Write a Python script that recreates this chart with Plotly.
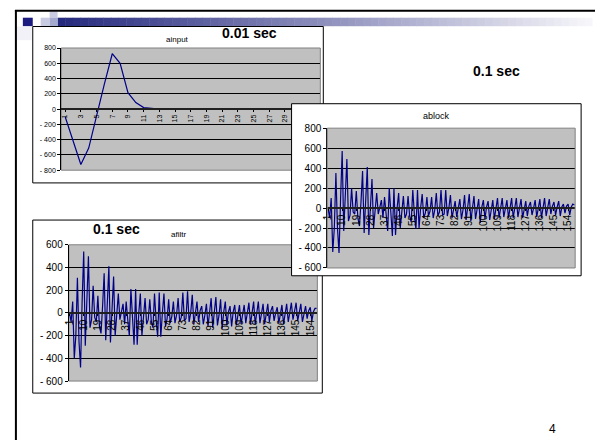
import plotly.graph_objects as go

W, H = 595, 445
FONT = "Liberation Sans, Arial, sans-serif"

# ---------------- data ----------------
ainput_x = list(range(1, 34))
ainput = [-100, -420, -725, -510, -80, 330, 725, 600, 215, 85, 20, 5,
          0, 0, 0, 0, 0, 0, 0, 0, 0, 0, 0, 0, 0, 0, 0, 0, 0, 0, 0, 0, 0]

ablock = [0, -100, 100, -440, -200, 350, -200, -450, 100, 570,
          -230, 120, 490, -130, -70, 200, -40, -60, 170, -100,
          -180, 60, 370, -250, 20, 410, -270, 60, 290, -200,
          -30, 150, -60, 20, 80, -100, 110, -60, -230, 200,
          -60, -280, 200, -270, 0, 150, -200, -20, 120, -100,
          -60, 120, -80, -140, 180, -60, -210, 180, -200, 0,
          140, -100, -50, 110, -80, -30, 110, -100, -20, 150,
          -80, -40, 180, -70, -60, 180, -80, 0, 130, -100,
          -10, 70, -90, 20, 90, -110, -20, 130, -120, 10,
          140, -130, 0, 120, -110, -20, 90, -150, 10, 80,
          -110, 10, 70, -120, 10, 80, -110, 0, 100, -100,
          10, 100, -90, 0, 80, -100, 10, 100, -100, 0,
          100, -90, 10, 90, -100, 0, 70, -80, 20, 60,
          -70, 0, 80, -90, 10, 90, -100, 10, 100, -80,
          10, 90, -60, 20, 60, -70, 10, 70, -80, 10,
          40, -50, 20, 40, -70, 10, 40, 30]

afiltr = [0, -80, 100, -400, -200, 310, -250, -480, 100, 540,
          -290, 100, 500, -130, -60, 240, -40, -80, 150, -120,
          -180, 60, 350, -240, 30, 410, -260, 60, 320, -200,
          -20, 170, -60, 30, 80, -100, 100, -60, -200, 210,
          -60, -280, 210, -280, 0, 170, -200, -20, 130, -100,
          -60, 120, -80, -130, 170, -60, -210, 180, -210, 0,
          170, -120, -50, 120, -90, -30, 100, -90, -20, 130,
          -80, -40, 180, -70, -50, 190, -80, 0, 160, -100,
          -10, 100, -80, 20, 60, -100, -20, 80, -120, 10,
          130, -130, 0, 140, -110, -20, 120, -140, 10, 100,
          -110, 10, 60, -120, 10, 70, -110, 0, 70, -100,
          10, 70, -90, 0, 90, -100, 10, 100, -100, 0,
          100, -90, 10, 80, -100, 0, 80, -80, 20, 60,
          -70, 0, 50, -90, 10, 70, -100, 10, 80, -80,
          10, 90, -60, 20, 90, -70, 10, 80, -80, 10,
          60, -50, 20, 50, -70, 10, 40, 40]

long_x = list(range(1, len(ablock) + 1))
ainput_ticks = list(range(1, 32, 2))
long_ticks = list(range(1, 155, 9))


def neg_label(v):
    return "0" if v == 0 else (f"- {abs(v)}" if v < 0 else str(v))


# ---------------- geometry helpers ----------------
def fx(x):
    return x / W


def fy(y):
    return 1 - y / H


# plot areas (px) and boxes (px)
P1 = dict(x0=56.7, x1=318, y0=44, y1=169)
B1 = dict(x0=28, x1=321, y0=22, y1=182)
P3 = dict(x0=64.3, x1=315, y0=245.3, y1=384.7)
B3 = dict(x0=28, x1=320, y0=220, y1=397)
P2 = dict(x0=325, x1=575, y0=126, y1=269)
B2 = dict(x0=289, x1=581, y0=101, y1=277)

LINE = "#000088"
LW = 1.2
GRAY = "#C0C0C0"

fig = go.Figure()
# chart 1 (xy), chart 3 (x2y2), cover (x3y3), chart 2 (x4y4) - order matters
fig.add_trace(go.Scatter(x=ainput_x, y=ainput, mode="lines",
                         line=dict(color=LINE, width=LW), xaxis="x", yaxis="y"))
fig.add_trace(go.Scatter(x=long_x, y=afiltr, mode="lines",
                         line=dict(color=LINE, width=LW), xaxis="x2", yaxis="y2"))
# cover: white box of chart 2 and its grey plot area (relative coordinates)
gx0 = (P2["x0"] - B2["x0"]) / (B2["x1"] - B2["x0"])
gx1 = (P2["x1"] - B2["x0"]) / (B2["x1"] - B2["x0"])
gy0 = (B2["y1"] - P2["y1"]) / (B2["y1"] - B2["y0"])
gy1 = (B2["y1"] - P2["y0"]) / (B2["y1"] - B2["y0"])
fig.add_trace(go.Scatter(x=[0, 1, 1, 0, 0], y=[0, 0, 1, 1, 0], mode="lines",
                         fill="toself", fillcolor="white", line=dict(width=0),
                         xaxis="x3", yaxis="y3", hoverinfo="skip"))
fig.add_trace(go.Scatter(x=[gx0, gx1, gx1, gx0, gx0], y=[gy0, gy0, gy1, gy1, gy0],
                         mode="lines", fill="toself", fillcolor=GRAY,
                         line=dict(width=0), xaxis="x3", yaxis="y3", hoverinfo="skip"))
fig.add_trace(go.Scatter(x=long_x, y=ablock, mode="lines",
                         line=dict(color=LINE, width=LW), xaxis="x4", yaxis="y4"))


def ydom(P):
    return [fy(P["y1"]), fy(P["y0"])]


def xdom(P):
    return [fx(P["x0"]), fx(P["x1"])]


def zero_pos(P, lo, hi):
    d = ydom(P)
    return d[0] + (0 - lo) / (hi - lo) * (d[1] - d[0])


def yaxis_cfg(P, lo, hi, size, anchor):
    vals = list(range(lo, hi + 1, 200))
    return dict(domain=ydom(P), range=[lo, hi], anchor=anchor,
                tickvals=vals, ticktext=[neg_label(v) for v in vals],
                showgrid=True, gridcolor="black", gridwidth=1,
                zeroline=False, showline=True, linecolor="black", linewidth=1,
                ticks="outside", ticklen=3, tickcolor="black",
                tickfont=dict(family=FONT, size=size, color="black"),
                fixedrange=True)


def xaxis_cfg(P, rng, ticks, size, pos):
    return dict(domain=xdom(P), range=rng, anchor="free", position=pos,
                tickmode="array", tickvals=ticks, ticktext=[str(t) for t in ticks],
                tickangle=-90, showgrid=False, zeroline=False,
                showline=True, linecolor="#202020", linewidth=1.5,
                ticks="outside", ticklen=2, tickcolor="black",
                tickfont=dict(family=FONT, size=size, color="black"),
                fixedrange=True)


layout = dict(
    width=W, height=H, margin=dict(l=0, r=0, t=0, b=0),
    paper_bgcolor="white", plot_bgcolor=GRAY, showlegend=False,
    xaxis=xaxis_cfg(P1, [0.5, 33.5], ainput_ticks, 7, zero_pos(P1, -800, 800)),
    yaxis=yaxis_cfg(P1, -800, 800, 7, "x"),
    xaxis2=xaxis_cfg(P3, [0.5, 158.5], long_ticks, 10, zero_pos(P3, -600, 600)),
    yaxis2=yaxis_cfg(P3, -600, 600, 10, "x2"),
    xaxis3=dict(domain=[fx(B2["x0"]), fx(B2["x1"])], range=[0, 1], visible=False,
                anchor="y3", fixedrange=True),
    yaxis3=dict(domain=[fy(B2["y1"]), fy(B2["y0"])], range=[0, 1], visible=False,
                anchor="x3", fixedrange=True),
    xaxis4=xaxis_cfg(P2, [0.5, 158.5], long_ticks, 10, zero_pos(P2, -600, 800)),
    yaxis4=yaxis_cfg(P2, -600, 800, 10, "x4"),
)
fig.update_layout(**layout)

shapes = []


def rect(B, layer, color="black", width=1, fill=None):
    d = dict(type="rect", xref="paper", yref="paper",
             x0=fx(B["x0"]), x1=fx(B["x1"]), y0=fy(B["y1"]), y1=fy(B["y0"]),
             line=dict(color=color, width=width), layer=layer)
    if fill:
        d["fillcolor"] = fill
    return d


# slide decoration: gradient bar
n = 70
xa, xb = 53, 592
c0 = (38, 42, 126)
c1 = (246, 246, 250)
for i in range(n):
    t = i / (n - 1)
    c = tuple(int(round(c0[k] + (c1[k] - c0[k]) * t)) for k in range(3))
    x0 = xa + (xb - xa) * i / n
    x1 = xa + (xb - xa) * (i + 1) / n + 0.5
    shapes.append(dict(type="rect", xref="paper", yref="paper", layer="below",
                       x0=fx(x0), x1=fx(x1), y0=fy(21.7), y1=fy(13),
                       line=dict(width=0), fillcolor="rgb(%d,%d,%d)" % c))
# small squares
for (x0, x1, y0, y1, col) in [(18, 28, 13, 21.7, "#1C1C80"),
                              (36, 45, 13, 21.7, "#C8CBE2"),
                              (45, 53, 6.5, 13, "#C8CBE2"),
                              (45, 53, 13, 21.7, "#A4A9D0"),
                              (12, 27, 22, 36, "#F1F1F7")]:
    shapes.append(dict(type="rect", xref="paper", yref="paper", layer="below",
                       x0=fx(x0), x1=fx(x1), y0=fy(y1), y1=fy(y0),
                       line=dict(width=0), fillcolor=col))
# slide frame lines
shapes.append(dict(type="line", xref="paper", yref="paper", layer="below",
                   x0=fx(10), x1=fx(595), y0=fy(6), y1=fy(6),
                   line=dict(color="black", width=2)))
shapes.append(dict(type="line", xref="paper", yref="paper", layer="below",
                   x0=fx(11), x1=fx(11), y0=fy(445), y1=fy(5),
                   line=dict(color="black", width=2)))
# chart boxes and plot-area borders
shapes.append(rect(B1, "below"))
shapes.append(rect(B3, "below"))
shapes.append(rect(P1, "below", color="#808080"))
shapes.append(rect(P3, "below", color="#808080"))
shapes.append(rect(B2, "above"))
shapes.append(rect(P2, "above", color="#808080"))
fig.update_layout(shapes=shapes)

ann = []


def text(x, y, s, size, bold=False):
    ann.append(dict(xref="paper", yref="paper", x=fx(x), y=fy(y), text=("<b>%s</b>" % s) if bold else s,
                    showarrow=False, xanchor="center", yanchor="middle",
                    font=dict(family=FONT, size=size, color="black")))


text(174, 35, "ainput", 8)
text(247, 29, "0.01 sec", 14, True)
text(496, 68, "0.1 sec", 14, True)
text(435, 114, "ablock", 9)
text(112, 229, "0.1 sec", 14, True)
text(174.5, 234.5, "afiltr", 8)
text(552, 434, "4", 12)
fig.update_layout(annotations=ann)

fig.write_html("out.html", config={"displayModeBar": False},
               post_script="document.body.style.margin='0';document.body.style.overflow='hidden';")
